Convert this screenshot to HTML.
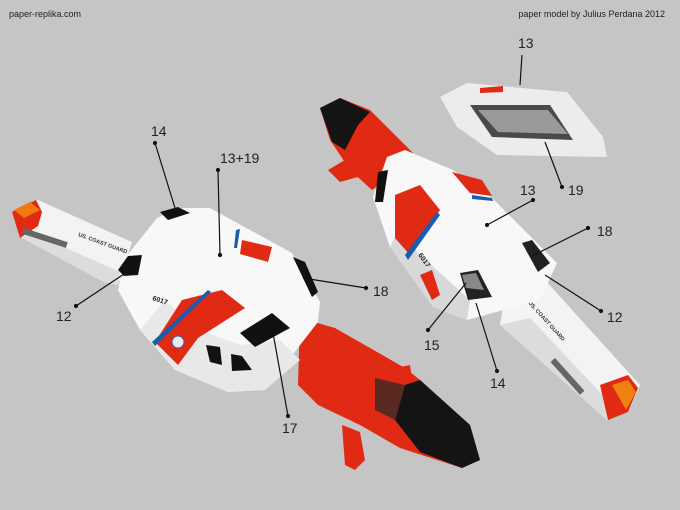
<!DOCTYPE html>
<html><head><meta charset="utf-8"><style>
html,body{margin:0;padding:0;background:#c5c5c5;}
svg{display:block;font-family:"Liberation Sans",sans-serif;}
</style></head><body>
<svg width="680" height="510" viewBox="0 0 680 510" xmlns="http://www.w3.org/2000/svg">
<rect width="680" height="510" fill="#c5c5c5"/>
<text x="9" y="17" font-size="9" fill="#222">paper-replika.com</text>
<text x="665" y="17" font-size="9" fill="#222" text-anchor="end">paper model by Julius Perdana 2012</text>

<!-- LEFT MODEL -->
<!-- nose -->
<polygon points="300,318 335,328 405,368 420,380 470,425 480,460 462,468 400,448 360,425 318,405 298,385" fill="#e02a14"/>
<polygon points="405,385 420,380 470,425 480,460 462,468 420,452 395,420" fill="#141414"/>
<polygon points="375,378 405,385 395,420 375,410" fill="#5a2a22"/>
<polygon points="342,425 360,432 365,460 355,470 345,465" fill="#e02a14"/>
<polygon points="395,368 410,365 412,378 400,380" fill="#e02a14"/>
<!-- tail boom -->
<polygon points="14,212 38,200 132,242 118,285 104,282 22,238" fill="#f3f3f3"/>
<polygon points="22,238 104,282 118,285 120,272 30,232" fill="#dcdcdc"/>
<polygon points="12,212 36,200 42,212 38,226 20,238" fill="#e02a14"/>
<polygon points="14,210 30,202 40,210 24,218" fill="#f07a10"/>
<rect x="24" y="228" width="46" height="6" fill="#666" transform="rotate(18 24 228)"/>
<text x="78" y="236" font-size="5.5" font-weight="bold" fill="#333" transform="rotate(20 78 236)">US. COAST GUARD</text>
<!-- body -->
<polygon points="157,218 180,208 210,208 292,253 320,302 318,322 265,390 228,392 175,370 140,330 118,290 125,258" fill="#f8f8f8"/>
<polygon points="140,330 175,370 228,392 265,390 300,360 280,340 240,345 200,330 165,300" fill="#e8e8e8"/>
<polygon points="182,300 222,290 245,308 198,338 180,330" fill="#e02a14"/>
<polygon points="155,342 182,300 198,338 178,365" fill="#e02a14"/>
<polygon points="152,342 208,290 211,292 155,346" fill="#1a5db0"/>
<polygon points="242,240 272,247 268,262 240,254" fill="#e02a14"/>
<polygon points="236,230 240,229 237,248 234,248" fill="#1a5db0"/>
<text x="152" y="300" font-size="7" font-weight="bold" fill="#222" transform="rotate(18 152 300)">6017</text>
<circle cx="178" cy="342" r="6" fill="#e8e8f0" stroke="#3060a0"/>
<polygon points="293,257 305,262 318,292 312,297" fill="#111"/>
<polygon points="240,333 272,313 290,328 255,347" fill="#111"/>
<polygon points="206,345 220,347 222,365 210,362" fill="#111"/>
<polygon points="231,354 242,356 252,370 232,371" fill="#111"/>
<polygon points="118,270 128,256 142,255 138,275 124,276" fill="#111"/>
<polygon points="160,212 178,207 190,213 168,220" fill="#111"/>

<!-- RIGHT MODEL top piece -->
<polygon points="440,97 467,83 567,92 603,137 607,157 497,155 457,127" fill="#ececec"/>
<polygon points="470,105 550,105 573,140 492,137" fill="#4a4a4a"/>
<polygon points="478,110 548,110 568,134 498,132" fill="#9a9a9a"/>
<polygon points="480,88 503,86 503,92 480,93" fill="#e02a14"/>
<!-- nose -->
<polygon points="320,108 340,98 370,110 410,150 418,158 400,170 372,190 350,170 330,140" fill="#e02a14"/>
<polygon points="320,108 340,98 370,112 358,125 345,150 332,142" fill="#141414"/>
<polygon points="328,170 345,160 365,175 340,182" fill="#e02a14"/>
<!-- tail boom -->
<polygon points="505,295 545,280 640,385 628,412 607,420 500,325" fill="#f3f3f3"/>
<polygon points="500,325 607,420 612,405 530,318" fill="#dcdcdc"/>
<polygon points="600,385 628,375 638,388 628,412 608,420" fill="#e02a14"/>
<polygon points="612,385 628,380 636,392 626,410" fill="#f08010"/>
<rect x="555" y="358" width="44" height="6" fill="#666" transform="rotate(48 555 358)"/>
<text x="528" y="303" font-size="5.5" font-weight="bold" fill="#333" transform="rotate(48 528 303)">US. COAST GUARD</text>
<!-- body -->
<polygon points="387,157 405,150 453,170 490,196 557,263 540,300 467,320 433,307 390,247 373,197" fill="#f8f8f8"/>
<polygon points="390,247 433,307 467,320 470,300 420,255 398,230" fill="#d8d8d8"/>
<polygon points="395,195 420,185 440,210 410,255 395,238" fill="#e02a14"/>
<polygon points="405,255 437,212 440,215 408,260" fill="#1a5db0"/>
<polygon points="452,172 482,180 492,196 470,193" fill="#e02a14"/>
<polygon points="472,195 492,198 493,201 472,199" fill="#1a5db0"/>
<polygon points="420,275 432,270 440,295 432,300" fill="#e02a14"/>
<text x="418" y="255" font-size="7" font-weight="bold" fill="#222" transform="rotate(55 418 255)">6017</text>
<polygon points="460,273 478,270 492,297 468,300" fill="#222"/>
<polygon points="462,275 476,273 484,290 466,288" fill="#888"/>
<polygon points="522,243 532,240 550,263 538,272" fill="#222"/>
<polygon points="378,172 388,170 383,202 375,202" fill="#111"/>

<!-- leaders -->
<g stroke="#111" stroke-width="1.2" fill="#111">
<line x1="155" y1="143" x2="175" y2="208"/><circle cx="155" cy="143" r="1.5"/>
<line x1="218" y1="170" x2="220" y2="255"/><circle cx="218" cy="170" r="1.5"/><circle cx="220" cy="255" r="1.5"/>
<line x1="76" y1="306" x2="124" y2="274"/><circle cx="76" cy="306" r="1.5"/>
<line x1="366" y1="288" x2="303" y2="278"/><circle cx="366" cy="288" r="1.5"/>
<line x1="288" y1="416" x2="273" y2="333"/><circle cx="288" cy="416" r="1.5"/>
<line x1="522" y1="55" x2="520" y2="85"/>
<line x1="562" y1="187" x2="545" y2="142"/><circle cx="562" cy="187" r="1.5"/>
<line x1="533" y1="200" x2="487" y2="225"/><circle cx="533" cy="200" r="1.5"/><circle cx="487" cy="225" r="1.5"/>
<line x1="588" y1="228" x2="532" y2="256"/><circle cx="588" cy="228" r="1.5"/>
<line x1="601" y1="311" x2="545" y2="275"/><circle cx="601" cy="311" r="1.5"/>
<line x1="428" y1="330" x2="466" y2="283"/><circle cx="428" cy="330" r="1.5"/>
<line x1="497" y1="371" x2="476" y2="303"/><circle cx="497" cy="371" r="1.5"/>
</g>
<g font-size="14" fill="#222">
<text x="151" y="136">14</text>
<text x="220" y="163">13+19</text>
<text x="56" y="321">12</text>
<text x="373" y="296">18</text>
<text x="282" y="433">17</text>
<text x="518" y="48">13</text>
<text x="568" y="195">19</text>
<text x="520" y="195">13</text>
<text x="597" y="236">18</text>
<text x="607" y="322">12</text>
<text x="424" y="350">15</text>
<text x="490" y="388">14</text>
</g>
</svg>
</body></html>
